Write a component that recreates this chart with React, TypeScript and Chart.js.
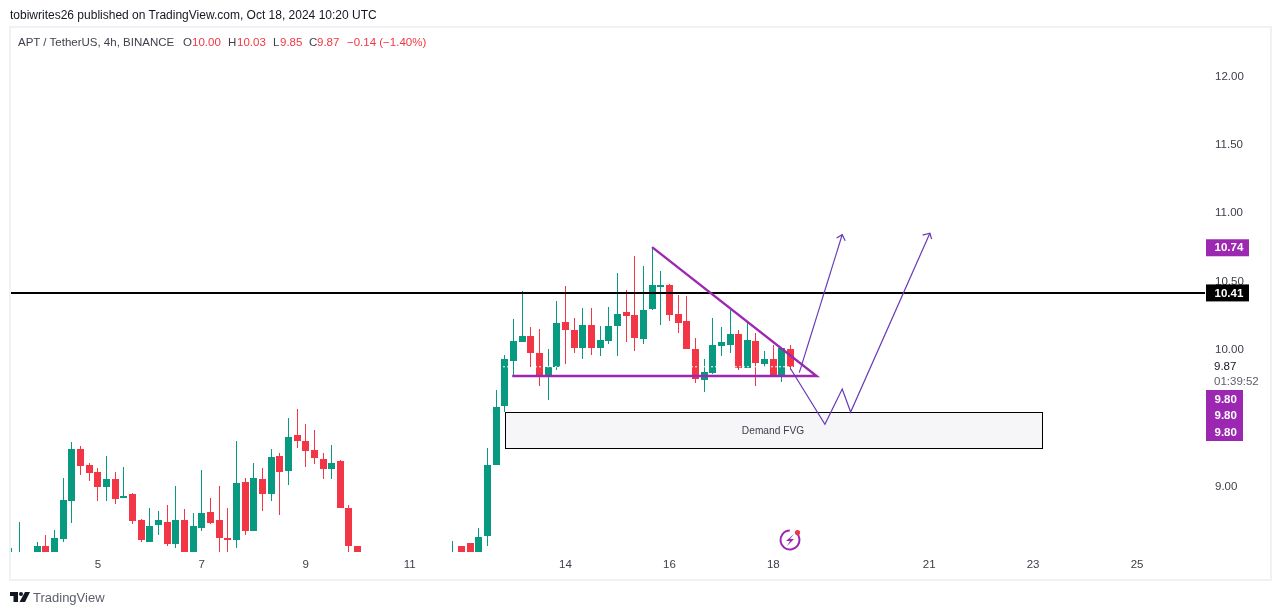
import React, { useEffect, useRef } from "react";
import { Chart, registerables } from "chart.js";

Chart.register(...registerables);

// Candle slots run from slot -10; one slot is 4 hours, six slots make one day. Null = below the visible pane.
const firstSlot = -10;
const opens: (number | null)[] = [
  8.45, 8.47, null, 8.45, 8.56, 8.45, 8.611, 8.889, 9.269, 9.152, 9.101, 8.991, 9.05, 8.911, 8.94, 8.75, 8.589, 8.713, 8.735, 8.575,
  8.75, 8.45, 8.691, 8.808, 8.75, 8.618, 8.604, 9.028, 8.67, 9.05, 8.94, 9.218, 9.108, 9.371, 9.327, 9.262, 9.196, 9.123, 9.181, 8.838,
  8.56, null, null, null, null, null, null, null, null, null, null, 8.45, 8.56, 8.582, 8.45, 8.633, 9.152, 9.583, 9.912, 10.051,
  10.095, 9.971, 9.81, 9.868, 10.197, 10.139, 10.007, 10.175, 10.007, 10.058, 10.168, 10.27, 10.248, 10.073, 10.292, 10.453, 10.468, 10.256, 10.205, 10.0,
  9.773, 9.825, 10.022, 10.029, 10.11, 9.861, 10.058, 9.89, 9.927, 9.802, 10.0,
];
const highs: (number | null)[] = [
  8.545, 8.735, null, 8.589, 8.64, 8.677, 9.057, 9.32, 9.291, 9.167, 9.13, 9.218, 9.101, 9.137, 8.947, 8.757, 8.838, 8.816, 8.86, 8.999,
  8.83, 8.801, 9.115, 8.911, 9.0, 8.838, 9.327, 9.057, 9.167, 9.13, 9.269, 9.24, 9.496, 9.561, 9.452, 9.408, 9.24, 9.298, 9.189, 8.86,
  8.56, null, null, null, null, null, null, null, null, null, null, 8.597, 8.56, 8.582, 8.692, 9.276, 9.7, 9.956, 10.219, 10.424,
  10.161, 10.146, 10.0, 10.351, 10.46, 10.227, 10.3, 10.3, 10.168, 10.307, 10.556, 10.431, 10.68, 10.607, 10.746, 10.57, 10.475, 10.395, 10.387, 10.08,
  9.927, 10.227, 10.161, 10.285, 10.139, 10.197, 10.117, 9.985, 10.029, 10.007, 10.03,
];
const lows: (number | null)[] = [
  8.42, 8.42, null, 8.42, 8.42, 8.42, 8.589, 8.728, 9.079, 9.035, 8.889, 8.889, 8.867, 8.911, 8.721, 8.589, 8.589, 8.64, 8.56, 8.545,
  8.42, 8.42, 8.669, 8.721, 8.42, 8.42, 8.545, 8.64, 8.67, 8.816, 8.889, 8.787, 9.006, 9.276, 9.137, 9.159, 9.05, 9.05, 8.838, 8.42,
  8.42, null, null, null, null, null, null, null, null, null, null, 8.42, 8.42, 8.42, 8.42, 8.56, 9.152, 9.54, 9.795, 10.051,
  9.868, 9.73, 9.627, 9.847, 9.89, 9.971, 9.927, 9.956, 9.949, 10.036, 9.949, 10.051, 9.985, 10.036, 10.285, 10.175, 10.205, 10.117, 10.0, 9.751,
  9.686, 9.817, 9.949, 9.971, 9.847, 9.861, 9.73, 9.868, 9.802, 9.759, 9.85,
];
const closes: (number | null)[] = [
  8.47, 8.49, null, 8.56, 8.45, 8.618, 8.896, 9.269, 9.145, 9.094, 8.991, 9.05, 8.904, 8.925, 8.743, 8.604, 8.706, 8.75, 8.575, 8.75,
  8.45, 8.706, 8.801, 8.728, 8.618, 8.604, 9.02, 8.67, 9.057, 8.94, 9.211, 9.101, 9.357, 9.327, 9.254, 9.203, 9.123, 9.167, 8.838, 8.56,
  8.45, null, null, null, null, null, null, null, null, null, null, 8.47, 8.45, 8.45, 8.626, 9.152, 9.576, 9.927, 10.058, 10.095,
  9.971, 9.81, 9.868, 10.19, 10.139, 10.007, 10.175, 10.007, 10.066, 10.168, 10.256, 10.241, 10.08, 10.285, 10.468, 10.468, 10.248, 10.19, 10.0, 9.781,
  9.832, 10.029, 10.051, 10.11, 9.861, 10.066, 9.898, 9.927, 9.802, 10.007, 9.87,
];

const priceTicks = [12, 11.5, 11, 10.5, 10, 9];
const daySlots = [0, 12, 24, 36, 54, 66, 78, 96, 108, 120];
const dayLabels = ["5", "7", "9", "11", "14", "16", "18", "21", "23", "25"];

const slotMin = -10.029;
const slotMax = 127.85;
const priceMin = 8.5161;
const priceMax = 12.3465;

const resistancePrice = 10.41;
const lastPrice = 9.87;

const triangleX = [47.85, 83.0, 64.0];
const triangleY = [9.803, 9.803, 10.745];
const forecastAX = [81.0, 85.96];
const forecastAY = [9.827, 10.836];
const headAX = [85.31, 85.96, 86.3];
const headAY = [10.811, 10.836, 10.792];
const forecastBX = [79.96, 83.96, 85.96, 86.93, 96.08];
const forecastBY = [9.859, 9.45, 9.708, 9.539, 10.846];
const headBX = [95.24, 96.08, 96.28];
const headBY = [10.833, 10.846, 10.804];

const fvgSlots = [47.1, 109.1];
const fvgPrices = [9.542, 9.274];
const fvgLabel = "Demand FVG";

const GREEN = "#089981";
const RED = "#f23645";
const PURPLE = "#9c27b0";
const VIOLET = "#673ab7";
const AXIS_TEXT = "#3d4049";
const FONT = '"Liberation Sans", Arial, sans-serif';

const pairs = (xs: number[], ys: number[]) => xs.map((x, i) => ({ x, y: ys[i] }));

const slotOf = (i: number) => firstSlot + i;

const bodies = opens.flatMap((o, i) => (o === null ? [] : [{ x: slotOf(i), y: [o, closes[i] as number] }]));
const wicks = opens.flatMap((o, i) => (o === null ? [] : [{ x: slotOf(i), y: [lows[i] as number, highs[i] as number] }]));
const barColors = opens.flatMap((o, i) => (o === null ? [] : [(closes[i] as number) >= o ? GREEN : RED]));

const snapBars = {
  id: "snapBars",
  beforeDatasetDraw(chart: any, args: any) {
    if (args.meta.type !== "bar") return;
    for (const el of args.meta.data) {
      el.x = Math.floor(el.x) + 0.5;
      el.y = Math.round(el.y);
      el.base = Math.round(el.base);
    }
  },
};

const demandBox = {
  id: "demandBox",
  beforeDatasetsDraw(chart: any) {
    const { ctx, scales } = chart;
    const x0 = Math.floor(scales.x.getPixelForValue(fvgSlots[0])) + 0.5;
    const x1 = Math.floor(scales.x.getPixelForValue(fvgSlots[1])) + 0.5;
    const y0 = Math.round(scales.y.getPixelForValue(fvgPrices[0])) + 0.5;
    const y1 = Math.round(scales.y.getPixelForValue(fvgPrices[1])) + 0.5;
    ctx.save();
    ctx.fillStyle = "#f6f6f9";
    ctx.fillRect(x0, y0, x1 - x0, y1 - y0);
    ctx.strokeStyle = "#000000";
    ctx.lineWidth = 1;
    ctx.strokeRect(x0, y0, x1 - x0, y1 - y0);
    ctx.fillStyle = "#3c3f48";
    ctx.font = `10.2px ${FONT}`;
    ctx.textAlign = "center";
    ctx.textBaseline = "middle";
    ctx.fillText(fvgLabel, (x0 + x1) / 2 - 1, (y0 + y1) / 2 + 0.5);
    ctx.restore();
  },
};

const overlay = {
  id: "overlay",
  afterDraw(chart: any) {
    const { ctx, scales } = chart;
    const y = scales.y;
    ctx.save();

    // outer frame
    ctx.strokeStyle = "#f0f1f7";
    ctx.lineWidth = 2;
    ctx.strokeRect(10, 27, 1261, 553);

    // price tags
    const tag = (text: string, cy: number, h: number, w: number, bg: string) => {
      ctx.fillStyle = bg;
      ctx.fillRect(1206, cy - h / 2, w, h);
      ctx.fillStyle = "#ffffff";
      ctx.font = `bold 11.5px ${FONT}`;
      ctx.textAlign = "left";
      ctx.textBaseline = "middle";
      ctx.fillText(text, 1214.5, cy + 0.5);
    };
    tag("10.74", y.getPixelForValue(10.74), 17, 43, PURPLE);
    tag(resistancePrice.toFixed(2), y.getPixelForValue(resistancePrice), 17, 43, "#000000");
    const base = y.getPixelForValue(9.8) + 22.6;
    ctx.fillStyle = PURPLE;
    ctx.fillRect(1206, 390, 37, 51);
    tag("9.80", base, 17, 37, PURPLE);
    tag("9.80", base + 16.6, 17, 37, PURPLE);
    tag("9.80", base + 33.2, 17, 37, PURPLE);

    // last price and countdown
    ctx.textAlign = "left";
    ctx.textBaseline = "middle";
    ctx.fillStyle = "#131722";
    ctx.font = `11.5px ${FONT}`;
    ctx.fillText(lastPrice.toFixed(2), 1214, y.getPixelForValue(lastPrice) + 0.5);
    ctx.fillStyle = "#5d606b";
    ctx.font = `11.5px ${FONT}`;
    ctx.fillText("01:39:52", 1214, 381.5);

    // lightning badge
    ctx.strokeStyle = PURPLE;
    ctx.lineWidth = 2;
    ctx.beginPath();
    ctx.arc(790, 540, 9.5, -0.9, -0.9 + Math.PI * 1.78);
    ctx.stroke();
    ctx.fillStyle = PURPLE;
    ctx.beginPath();
    ctx.moveTo(794, 534);
    ctx.lineTo(786, 541);
    ctx.lineTo(790, 541);
    ctx.lineTo(787, 546);
    ctx.lineTo(794, 539);
    ctx.lineTo(790, 539);
    ctx.closePath();
    ctx.fill();
    ctx.fillStyle = RED;
    ctx.beginPath();
    ctx.arc(797.5, 532.5, 2.6, 0, Math.PI * 2);
    ctx.fill();

    // TradingView mark
    ctx.fillStyle = "#131722";
    ctx.beginPath();
    ctx.moveTo(10, 592);
    ctx.lineTo(18, 592);
    ctx.lineTo(18, 602);
    ctx.lineTo(13.5, 602);
    ctx.lineTo(13.5, 596);
    ctx.lineTo(10, 596);
    ctx.closePath();
    ctx.moveTo(25, 592);
    ctx.lineTo(30, 592);
    ctx.lineTo(25, 602);
    ctx.lineTo(19.5, 602);
    ctx.closePath();
    ctx.fill();
    ctx.beginPath();
    ctx.arc(21, 594, 2, 0, Math.PI * 2);
    ctx.fill();

    ctx.restore();
  },
};

const abs = (left: number, top: number, color: string, size: number): React.CSSProperties => ({
  position: "absolute",
  left,
  top,
  color,
  fontSize: size,
  fontFamily: FONT,
  lineHeight: "16px",
  whiteSpace: "nowrap",
});

export default function App() {
  const ref = useRef<HTMLCanvasElement | null>(null);

  useEffect(() => {
    const lineStyle = (color: string, width: number, order: number) => ({
      type: "line" as const,
      borderColor: color,
      borderWidth: width,
      pointRadius: 0,
      tension: 0,
      fill: false,
      order,
    });
    const chart = new Chart(ref.current as HTMLCanvasElement, {
      type: "bar",
      data: {
        datasets: [
          { label: "Wicks", data: wicks, backgroundColor: barColors, barThickness: 1, grouped: false, order: 11, inflateAmount: 0, borderWidth: 0 },
          { label: "Bodies", data: bodies, backgroundColor: barColors, barThickness: 7, grouped: false, order: 10, inflateAmount: 0, borderWidth: 0 },
          {
            ...lineStyle("#ffffff", 1, 5),
            label: "Last price",
            data: pairs([slotMin, slotMax], [lastPrice, lastPrice]),
            borderDash: [2, 2],
          },
          {
            ...lineStyle("#000000", 2, 4),
            label: "Resistance",
            data: pairs([slotMin, slotMax], [resistancePrice, resistancePrice]),
          },
          { ...lineStyle(PURPLE, 2.4, 3), label: "Triangle", data: pairs(triangleX, triangleY) },
          { ...lineStyle(VIOLET, 1.2, 2), label: "Forecast A", data: pairs(forecastAX, forecastAY) },
          { ...lineStyle(VIOLET, 1.2, 2), label: "Arrow A", data: pairs(headAX, headAY) },
          { ...lineStyle(VIOLET, 1.2, 2), label: "Forecast B", data: pairs(forecastBX, forecastBY) },
          { ...lineStyle(VIOLET, 1.2, 2), label: "Arrow B", data: pairs(headBX, headBY) },
        ] as any,
      },
      options: {
        responsive: false,
        animation: false,
        parsing: undefined,
        layout: { padding: { left: 11, top: 28, right: 10, bottom: 35 } },
        plugins: { legend: { display: false }, tooltip: { enabled: false }, title: { display: false } },
        scales: {
          x: {
            type: "linear",
            min: slotMin,
            max: slotMax,
            offset: false,
            grid: { display: false, drawTicks: false },
            border: { display: false },
            afterBuildTicks: (s: any) => {
              s.ticks = daySlots.map((value) => ({ value }));
            },
            afterFit: (s: any) => {
              s.height = 28;
            },
            ticks: {
              autoSkip: false,
              maxRotation: 0,
              minRotation: 0,
              padding: 6,
              color: AXIS_TEXT,
              font: { family: FONT, size: 11.5 },
              callback: (v: any) => dayLabels[daySlots.indexOf(v)] ?? "",
            },
          },
          y: {
            type: "linear",
            position: "right",
            min: priceMin,
            max: priceMax,
            grid: { display: false, drawTicks: false },
            border: { display: false },
            afterBuildTicks: (s: any) => {
              s.ticks = priceTicks.map((value) => ({ value }));
            },
            afterFit: (s: any) => {
              s.width = 66;
            },
            ticks: {
              autoSkip: false,
              padding: 10,
              labelOffset: 1,
              color: AXIS_TEXT,
              font: { family: FONT, size: 11.5 },
              callback: (v: any) => Number(v).toFixed(2),
            },
          },
        },
      } as any,
      plugins: [snapBars, demandBox, overlay],
    });
    return () => chart.destroy();
  }, []);

  return (
    <>
      <canvas
        ref={ref}
        width={1281}
        height={615}
        style={{ position: "absolute", left: 0, top: 0, width: 1281, height: 615 }}
      />
      <div style={abs(10, 7, "#131722", 12)}>tobiwrites26 published on TradingView.com, Oct 18, 2024 10:20 UTC</div>
      <div style={abs(18, 34, "#3f424c", 11.5)}>APT / TetherUS, 4h, BINANCE</div>
      <div style={abs(183, 34, "#3f424c", 11.5)}>O</div>
      <div style={abs(192, 34, RED, 11.5)}>10.00</div>
      <div style={abs(228, 34, "#3f424c", 11.5)}>H</div>
      <div style={abs(237, 34, RED, 11.5)}>10.03</div>
      <div style={abs(273, 34, "#3f424c", 11.5)}>L</div>
      <div style={abs(280, 34, RED, 11.5)}>9.85</div>
      <div style={abs(309, 34, "#3f424c", 11.5)}>C</div>
      <div style={abs(317, 34, RED, 11.5)}>9.87</div>
      <div style={abs(347, 34, RED, 11.5)}>−0.14 (−1.40%)</div>
      <div style={abs(33, 590, "#5d606b", 13)}>TradingView</div>
    </>
  );
}
